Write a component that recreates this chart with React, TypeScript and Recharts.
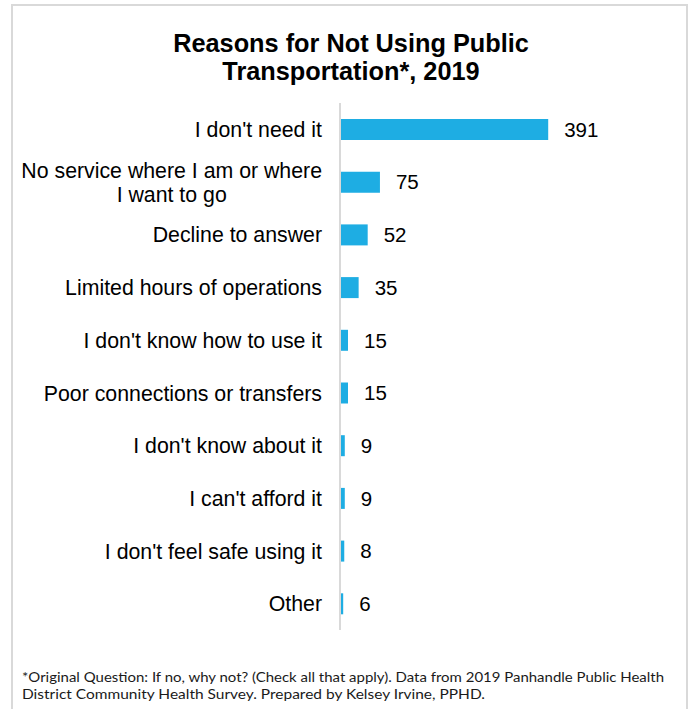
import React from 'react';
import { BarChart, Bar, XAxis, YAxis, LabelList } from 'recharts';

const reasons = [
  "I don't need it",
  'No service where I am or where|I want to go',
  'Decline to answer',
  'Limited hours of operations',
  "I don't know how to use it",
  'Poor connections or transfers',
  "I don't know about it",
  "I can't afford it",
  "I don't feel safe using it",
  'Other',
];
const counts = [391, 75, 52, 35, 15, 15, 9, 9, 8, 6];

const titleLines = ['Reasons for Not Using Public', 'Transportation*, 2019'];
const noteLines = [
  '*Original Question: If no, why not? (Check all that apply). Data from 2019 Panhandle Public Health',
  'District Community Health Survey. Prepared by Kelsey Irvine, PPHD.',
];

const LABEL_FONT = '21.3px "Liberation Sans", Arial, sans-serif';

let canvas: HTMLCanvasElement | null = null;
const measure = (s: string) => {
  if (!canvas) canvas = document.createElement('canvas');
  const ctx = canvas.getContext('2d');
  if (!ctx) return s.length * 10;
  ctx.font = LABEL_FONT;
  return ctx.measureText(s).width;
};

const ReasonTick = ({ x, y, payload }: any) => {
  const lines = String(payload.value).split('|');
  const widest = Math.max(...lines.map(measure));
  const cx = x - widest / 2;
  const lineH = 24;
  const start = y - ((lines.length - 1) * lineH) / 2;
  return (
    <g>
      {lines.map((l, i) => (
        <text
          key={i}
          x={cx}
          y={start + i * lineH}
          dy="0.36em"
          textAnchor="middle"
          fill="#000"
          fontSize={21.3}
          fontFamily='"Liberation Sans", Arial, sans-serif'
        >
          {l}
        </text>
      ))}
    </g>
  );
};

export default function App() {
  const data = reasons.map((r, i) => ({ reason: r, count: counts[i] }));
  return (
    <div style={{ position: 'absolute', left: 0, top: 0, width: 690, height: 709, overflow: 'hidden', background: '#fff' }}>
      <div
        style={{
          position: 'absolute',
          left: 11,
          top: 4,
          width: 677,
          height: 740,
          border: '2px solid #d9d9d9',
          boxSizing: 'border-box',
        }}
      />
      <div style={{ position: 'absolute', left: 0, top: 0 }}>
        <BarChart
          width={690}
          height={709}
          data={data}
          layout="vertical"
          margin={{ top: 103, right: 137, bottom: 79, left: 0 }}
        >
          <XAxis type="number" hide domain={[0, 400]} />
          <YAxis
            type="category"
            dataKey="reason"
            width={340}
            axisLine={{ stroke: '#d9d9d9', strokeWidth: 2 }}
            tickLine={false}
            tickSize={0}
            tickMargin={18}
            interval={0}
            tick={<ReasonTick />}
          />
          <Bar dataKey="count" fill="#1eade3" barSize={21} isAnimationActive={false}>
            <LabelList
              dataKey="count"
              position="right"
              offset={16}
              fill="#000"
              fontSize={20.5}
              fontFamily='"Liberation Sans", Arial, sans-serif'
            />
          </Bar>
        </BarChart>
      </div>
      <svg width={690} height={709} style={{ position: 'absolute', left: 0, top: 0, pointerEvents: 'none' }}>
        {titleLines.map((t, i) => (
          <text
            key={t}
            x={351}
            y={52 + i * 28}
            textAnchor="middle"
            fontSize={25.3}
            fontWeight="bold"
            fontFamily='"Liberation Sans", Arial, sans-serif'
            fill="#000"
          >
            {t}
          </text>
        ))}
        <text
          x={22}
          y={682}
          fontSize={13.5}
          fontFamily='Lato, "Open Sans", sans-serif'
          fill="#1a1a1a"
          textLength={642}
          lengthAdjust="spacingAndGlyphs"
        >
          {noteLines[0]}
        </text>
        <text
          x={22}
          y={699}
          fontSize={13.5}
          fontFamily='Lato, "Open Sans", sans-serif'
          fill="#1a1a1a"
          textLength={463}
          lengthAdjust="spacingAndGlyphs"
        >
          {noteLines[1]}
        </text>
      </svg>
    </div>
  );
}
